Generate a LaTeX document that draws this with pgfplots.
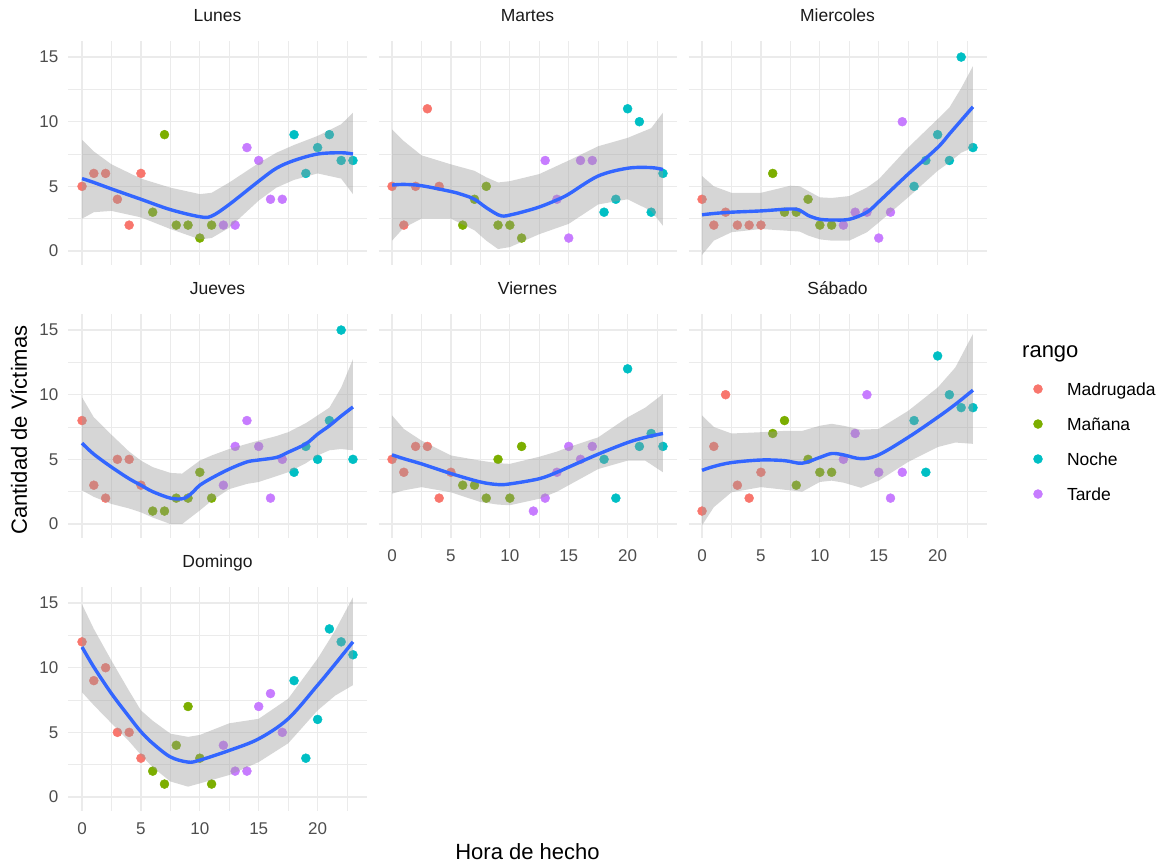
\documentclass[border=0pt]{standalone}
\usepackage{fontspec}
\setmainfont{Liberation Sans}
\usepackage{pgfplots}
\usepackage{pgfplotstable}
\pgfplotsset{compat=1.18}
\definecolor{cMad}{HTML}{F8766D}
\definecolor{cMan}{HTML}{7CAE00}
\definecolor{cNoc}{HTML}{00BFC4}
\definecolor{cTar}{HTML}{C77CFF}
\definecolor{gridc}{HTML}{EBEBEB}
\definecolor{tickc}{HTML}{4D4D4D}
\definecolor{stripc}{HTML}{1A1A1A}
\definecolor{fitc}{HTML}{3366FF}
\definecolor{ribc}{HTML}{999999}

% ---------- points (hour, victims) ----------
\pgfplotstableread{
h v
0 5
1 6
2 6
3 4
4 2
5 6
6 3
7 9
8 2
9 2
10 1
11 2
12 2
13 2
14 8
15 7
16 4
17 4
18 9
19 6
20 8
21 9
22 7
23 7
}\ptLun
\pgfplotstableread{
h v
0 5
1 2
2 5
3 11
4 5
6 2
7 4
8 5
9 2
10 2
11 1
13 7
14 4
15 1
16 7
17 7
18 3
19 4
20 11
21 10
22 3
23 6
}\ptMar
\pgfplotstableread{
h v
0 4
1 2
2 3
3 2
4 2
5 2
6 6
7 3
8 3
9 4
10 2
11 2
12 2
13 3
14 3
15 1
16 3
17 10
18 5
19 7
20 9
21 7
22 15
23 8
}\ptMie
\pgfplotstableread{
h v
0 8
1 3
2 2
3 5
4 5
5 3
6 1
7 1
8 2
9 2
10 4
11 2
12 3
13 6
14 8
15 6
16 2
17 5
18 4
19 6
20 5
21 8
22 15
23 5
}\ptJue
\pgfplotstableread{
h v
0 5
1 4
2 6
3 6
4 2
5 4
6 3
7 3
8 2
9 5
10 2
11 6
12 1
13 2
14 4
15 6
16 5
17 6
18 5
19 2
20 12
21 6
22 7
23 6
}\ptVie
\pgfplotstableread{
h v
0 1
1 6
2 10
3 3
4 2
5 4
6 7
7 8
8 3
9 5
10 4
11 4
12 5
13 7
14 10
15 4
16 2
17 4
18 8
19 4
20 13
21 10
22 9
23 9
}\ptSab
\pgfplotstableread{
h v
0 12
1 9
2 10
3 5
4 5
5 3
6 2
7 1
8 4
9 7
10 3
11 1
12 4
13 2
14 2
15 7
16 8
17 5
18 9
19 3
20 6
21 13
22 12
23 11
}\ptDom

% ---------- smoother line (hour, fit) ----------
\pgfplotstableread{
h fit
0 5.6
1 5.3
2.5 4.8
5 4.0
7.5 3.2
10 2.65
11 2.7
12.5 3.6
15 5.4
16.5 6.4
18 7.0
20 7.5
22 7.6
23 7.5
}\fitLun
\pgfplotstableread{
h fit
0 5.1
1 5.15
2.5 5.05
5 4.6
6 4.35
7 4.0
8 3.35
9 2.8
9.5 2.7
10 2.78
11 3.0
12.5 3.4
14 3.95
15 4.4
17.5 5.8
20 6.4
22 6.45
23 6.3
}\fitMar
\pgfplotstableread{
h fit
0 2.8
1 2.9
2.5 3.0
5 3.1
7.5 3.25
8.3 3.15
9 2.75
10 2.45
11 2.4
12.5 2.45
14 3.0
15 3.8
17.5 5.95
20 8.0
21 9.05
22 10.1
23 11.15
}\fitMie
\pgfplotstableread{
h fit
0 6.25
1 5.4
2.5 4.4
4 3.5
5 3.0
6 2.5
7.5 2.0
8.5 1.95
9 2.15
9.5 2.55
10 3.0
11 3.55
12.5 4.25
14 4.8
15 4.95
16.5 5.15
17.5 5.55
19 6.2
20 6.95
21 7.6
22 8.35
23 9.05
}\fitJue
\pgfplotstableread{
h fit
0 5.35
1 5.05
2.5 4.65
5 3.9
7.5 3.25
9 3.05
10 3.1
12.5 3.5
14 4.0
15 4.4
17.5 5.4
20 6.3
21.5 6.7
23 7.0
}\fitVie
\pgfplotstableread{
h fit
0 4.15
1 4.45
2.5 4.75
5 4.95
7 4.9
8.5 4.7
10 5.15
11 5.45
12 5.35
13.5 5.05
15 5.35
17.5 6.7
20 8.25
21.5 9.25
23 10.35
}\fitSab
\pgfplotstableread{
h fit
0 11.6
1 10.05
2.5 8.0
4 6.2
5 5.05
6 4.15
7.5 3.1
9 2.7
10 2.85
12.5 3.6
15 4.5
17.5 6.05
20 8.65
21.5 10.3
23 12.0
}\fitDom

% ---------- confidence band outlines (upper 0->23, then lower 23->0) ----------
\pgfplotstableread{
h b
0 8.6
1 7.7
2.5 6.7
5 5.6
7.5 4.9
10 4.4
11 4.5
12.5 5.3
15 6.8
16.5 7.6
18 8.2
20 8.9
22 9.8
23 10.7
23 4.4
22 5.6
20 6.0
18 5.5
16.5 4.9
15 3.9
12.5 1.8
11 1.0
10 0.9
7.5 1.7
5 2.6
2.5 3.1
1 3.0
0 2.5
}\bandLun
\pgfplotstableread{
h b
0 9.4
1 8.5
2.5 7.4
5 6.7
7 6.2
8 5.7
9 5.3
10 5.4
12.5 5.95
15 7.0
17.5 8.1
20 8.75
22 9.5
23 10.7
23 1.95
22 3.1
20 4.0
17.5 3.6
15 2.1
12.5 1.3
10 0.3
9 0.15
8 0.8
7 1.6
5 2.5
2.5 2.5
1 1.8
0 0.8
}\bandMar
\pgfplotstableread{
h b
0 5.8
1 5.0
2.5 4.5
5 4.5
7.5 5.05
8.3 5.0
9 4.65
10 4.15
11 4.1
12.5 4.25
14 4.9
15 5.55
17.5 8.0
20 10.2
21 11.1
22 12.6
23 14.3
23 8.0
22 7.6
21 6.85
20 6.2
17.5 4.15
15 2.2
14 1.45
12.5 0.8
11 0.8
10 0.9
9 1.2
8.3 1.5
7.5 1.55
5 1.7
2.5 1.45
1 0.8
0 -0.3
}\bandMie
\pgfplotstableread{
h b
0 9.8
1 8.25
2.5 6.9
4 5.6
5 4.9
6 4.4
7.5 3.95
8.5 3.9
10 4.9
11 5.3
12.5 5.8
14 6.2
15 6.45
16.5 6.8
17.5 7.1
19 7.8
20 8.4
21 9.0
22 10.55
23 12.75
23 5.7
22 5.8
21 5.7
20 5.3
19 4.7
17.5 4.0
16.5 3.7
15 3.25
14 3.1
12.5 2.7
11 1.8
10 1.05
8.5 0.0
7.5 0.0
6 0.5
5 0.9
4 1.2
2.5 1.55
1 2.1
0 2.6
}\bandJue
\pgfplotstableread{
h b
0 8.4
1 7.35
2.5 6.45
5 5.3
7.5 4.9
9 4.7
10 4.65
12.5 5.2
14 5.6
15 5.95
17.5 6.7
20 8.25
21.5 9.0
23 10.05
23 4.0
21.5 4.9
20 4.9
17.5 4.25
15 3.0
14 2.5
12.5 1.95
10 1.45
9 1.5
7.5 1.7
5 2.45
2.5 2.85
1 2.6
0 2.35
}\bandVie
\pgfplotstableread{
h b
0 8.4
1 7.5
2.5 7.0
5 7.1
7 7.2
8.5 7.2
10 7.6
11 7.75
12 7.6
13.5 7.3
15 7.35
17.5 8.75
20 10.55
21.5 12.1
23 14.7
23 6.2
21.5 6.3
20 5.95
17.5 4.8
15 3.35
13.5 2.8
12 3.2
11 3.35
10 3.25
8.5 2.5
7 2.65
5 2.85
2.5 2.45
1 1.3
0 -0.1
}\bandSab
\pgfplotstableread{
h b
0 14.9
1 13.0
2.5 10.55
4 8.2
5 6.7
6 5.9
7.5 4.9
9 4.65
10 4.8
12.5 5.7
15 6.05
17.5 7.6
20 10.7
21.5 12.9
23 15.45
23 8.65
21.5 7.85
20 6.7
17.5 4.15
15 2.7
12.5 1.7
10 1.05
9 0.8
7.5 1.2
6 2.3
5 3.25
4 4.3
2.5 5.7
1 7.1
0 8.1
}\bandDom

\pgfplotsset{
 panel/.style={
  scale only axis, width=298pt, height=224.3pt,
  xmin=-1.15, xmax=24.15, ymin=-1.1, ymax=16.25,
  xtick={0,5,10,15,20}, ytick={0,5,10,15},
  minor xtick={2.5,7.5,12.5,17.5,22.5}, minor ytick={2.5,7.5,12.5},
  xmajorgrids, ymajorgrids, xminorgrids, yminorgrids,
  major grid style={line width=1.3pt, draw=gridc},
  minor grid style={line width=0.8pt, draw=gridc},
  axis line style={draw=none},
  major tick style={draw=none}, minor tick style={draw=none},
  tick label style={font=\fontsize{17}{20}\selectfont, text=tickc},
  /pgf/number format/assume math mode=true,
  yticklabel style={inner sep=0pt, xshift=-10pt},
  xticklabel style={inner sep=0pt, yshift=-11pt},
  title style={at={(0.5,1)}, anchor=base, yshift=13.5pt,
    font=\fontsize{17.5}{20}\selectfont, text=stripc, inner sep=0pt},
  clip marker paths=true,
 },
 noxl/.style={xticklabels={}},
 noyl/.style={yticklabels={}},
 pts/.style={only marks, mark=*, mark size=4.5pt, color=#1,
   legend image code/.code={\draw[##1] plot coordinates {(0pt,0pt)};}},
}

\newcommand{\panel}[3]{%
 \addplot[pts=cMad, restrict x to domain=-0.5:5.5] table[x=h,y=v]{#1};
 \addplot[pts=cMan, restrict x to domain=5.5:11.5] table[x=h,y=v]{#1};
 \addplot[pts=cNoc, restrict x to domain=17.5:23.5] table[x=h,y=v]{#1};
 \addplot[pts=cTar, restrict x to domain=11.5:17.5] table[x=h,y=v]{#1};
 \addplot[fill=ribc, fill opacity=0.4, draw=none, forget plot] table[x=h,y=b]{#3};
 \addplot[smooth, tension=0.55, color=fitc, line width=3.4pt, forget plot] table[x=h,y=fit]{#2};
}

\begin{document}
\begin{tikzpicture}
\path (0,0) rectangle (1160pt,-863pt);
% row 1
\begin{axis}[panel, noxl, at={(68.5pt,-265.2pt)}, anchor=south west, title={Lunes}]
\panel{\ptLun}{\fitLun}{\bandLun}
\end{axis}
\begin{axis}[panel, noxl, noyl, at={(378.5pt,-265.2pt)}, anchor=south west, title={Martes}]
\panel{\ptMar}{\fitMar}{\bandMar}
\end{axis}
\begin{axis}[panel, noxl, noyl, at={(688.5pt,-265.2pt)}, anchor=south west, title={Miercoles}]
\panel{\ptMie}{\fitMie}{\bandMie}
\end{axis}
% row 2
\begin{axis}[panel, noxl, at={(68.5pt,-538.2pt)}, anchor=south west, title={Jueves}]
\panel{\ptJue}{\fitJue}{\bandJue}
\end{axis}
\begin{axis}[panel, noyl, at={(378.5pt,-538.2pt)}, anchor=south west, title={Viernes}]
\panel{\ptVie}{\fitVie}{\bandVie}
\end{axis}
\begin{axis}[panel, noyl, at={(688.5pt,-538.2pt)}, anchor=south west, title={Sábado},
  legend entries={Madrugada, Mañana, Noche, Tarde},
  legend cell align=left,
  legend style={at={(1.1577,0.693)}, anchor=north west, draw=none, fill=none,
    inner sep=0pt, outer sep=0pt, row sep=22.5pt, column sep=24.5pt,
    font=\fontsize{17.5}{20}\selectfont,
    nodes={inner sep=0pt, text height=12.5pt, text depth=0pt}}]
\panel{\ptSab}{\fitSab}{\bandSab}
\end{axis}
% row 3
\begin{axis}[panel, at={(68.5pt,-811.2pt)}, anchor=south west, title={Domingo}]
\panel{\ptDom}{\fitDom}{\bandDom}
\end{axis}
% titles
\node[rotate=90, anchor=base, font=\fontsize{22}{26}\selectfont, inner sep=0pt] at (27pt,-430pt) {Cantidad de Víctimas};
\node[anchor=base, font=\fontsize{22}{26}\selectfont, inner sep=0pt] at (527.5pt,-859pt) {Hora de hecho};
\node[anchor=base west, font=\fontsize{22}{26}\selectfont, inner sep=0pt] at (1022pt,-357pt) {rango};
\end{tikzpicture}
\end{document}
